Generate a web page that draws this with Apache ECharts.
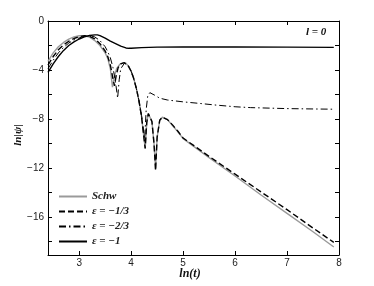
<!DOCTYPE html>
<html>
<head>
<meta charset="utf-8">
<script src="https://cdn.jsdelivr.net/npm/echarts@6/dist/echarts.min.js"></script>
<style>html,body{margin:0;padding:0;background:#fff}#c{width:374px;height:286px}</style>
</head>
<body>
<div id="c"></div>
<script>
var xTicks = [3, 4, 5, 6, 7, 8];
var yTicks = [0, -2, -4, -6, -8, -10, -12, -14, -16, -18];
var yLabels = [0, -4, -8, -12, -16];

var schwX = [2.4, 2.5, 2.6, 2.7, 2.8, 2.9, 3.0, 3.1, 3.2, 3.3, 3.4, 3.5, 3.55, 3.6, 3.64, 3.68, 3.72, 3.78, 3.85, 3.9, 3.95, 4.0, 4.05, 4.1, 4.15, 4.2, 4.24, 4.27, 4.3, 4.33, 4.36, 4.4, 4.44, 4.47, 4.5, 4.55, 4.6, 4.7, 4.8, 4.9, 5.0, 5.5, 6.0, 6.5, 7.0, 7.5, 7.9];
var schwY = [-3.3, -2.6, -2.1, -1.75, -1.48, -1.3, -1.2, -1.2, -1.32, -1.6, -2.0, -2.6, -3.05, -3.9, -5.4, -4.5, -3.9, -3.55, -3.4, -3.45, -3.7, -4.1, -4.7, -5.5, -6.5, -7.8, -9.3, -10.4, -8.3, -7.55, -7.6, -8.2, -10.0, -12.1, -9.5, -8.1, -7.85, -8.05, -8.55, -9.05, -9.6, -11.15, -12.65, -14.2, -15.7, -17.2, -18.45];

var e13X = [2.4, 2.5, 2.6, 2.7, 2.8, 2.9, 3.0, 3.1, 3.2, 3.3, 3.4, 3.5, 3.55, 3.6, 3.65, 3.68, 3.71, 3.75, 3.8, 3.87, 3.95, 4.0, 4.05, 4.1, 4.15, 4.2, 4.24, 4.27, 4.3, 4.33, 4.36, 4.4, 4.44, 4.47, 4.5, 4.55, 4.6, 4.7, 4.8, 4.9, 5.0, 5.5, 6.0, 6.5, 7.0, 7.5, 7.9];
var e13Y = [-3.6, -2.9, -2.35, -1.95, -1.65, -1.43, -1.28, -1.2, -1.25, -1.45, -1.85, -2.45, -2.9, -3.6, -4.7, -5.3, -4.5, -3.8, -3.5, -3.4, -3.7, -4.1, -4.7, -5.5, -6.5, -7.8, -9.3, -10.4, -8.3, -7.55, -7.6, -8.2, -10.0, -12.2, -9.5, -8.1, -7.85, -8.05, -8.5, -9.0, -9.55, -11.05, -12.5, -13.95, -15.4, -16.9, -18.07];

var e23X = [2.4, 2.5, 2.6, 2.7, 2.8, 2.9, 3.0, 3.1, 3.2, 3.3, 3.4, 3.5, 3.55, 3.6, 3.65, 3.7, 3.74, 3.77, 3.8, 3.87, 3.9, 3.95, 4.0, 4.05, 4.1, 4.15, 4.2, 4.24, 4.26, 4.29, 4.32, 4.36, 4.45, 4.55, 4.7, 5.0, 5.3, 5.6, 6.0, 6.3, 7.0, 7.5, 7.9];
var e23Y = [-3.9, -3.2, -2.6, -2.15, -1.8, -1.55, -1.38, -1.25, -1.2, -1.3, -1.6, -2.1, -2.5, -3.0, -3.8, -5.0, -6.3, -4.8, -3.9, -3.45, -3.45, -3.7, -4.1, -4.7, -5.5, -6.5, -7.7, -9.0, -9.6, -7.2, -6.1, -5.85, -6.05, -6.3, -6.45, -6.6, -6.72, -6.85, -7.0, -7.07, -7.15, -7.18, -7.2];

var e1X = [2.4, 2.5, 2.6, 2.7, 2.8, 2.9, 3.0, 3.1, 3.2, 3.3, 3.35, 3.4, 3.5, 3.6, 3.7, 3.8, 3.9, 3.95, 4.0, 4.2, 4.5, 5.0, 6.0, 7.0, 7.9];
var e1Y = [-4.2, -3.5, -2.9, -2.4, -2.0, -1.7, -1.47, -1.3, -1.18, -1.13, -1.13, -1.2, -1.4, -1.65, -1.85, -2.05, -2.2, -2.23, -2.22, -2.17, -2.13, -2.12, -2.12, -2.13, -2.15];

var names = ['Schw', 'ε = −1/3', 'ε = −2/3', 'ε = −1'];

function pairs(xs, ys) { return xs.map(function (x, i) { return [x, ys[i]]; }); }
function minus(v) { return String(v).replace('-', '\u2212'); }

var serif = '"Liberation Serif", "DejaVu Serif", serif';
var sans = '"Liberation Sans", Arial, sans-serif';

var chart = echarts.init(document.getElementById('c'), null, { renderer: 'canvas' });
var axisLine = { show: true, onZero: false, lineStyle: { color: '#000', width: 1 } };
function tick(vals) { return { inside: true, length: 4, customValues: vals, lineStyle: { color: '#000' } }; }
chart.setOption({
  animation: false,
  grid: { left: 48, right: 35, top: 21, bottom: 31 },
  xAxis: [
    { type: 'value', min: 2.4, max: 8, position: 'bottom', axisLine: axisLine, axisTick: tick(xTicks),
      axisLabel: { customValues: xTicks, color: '#222', fontFamily: sans, fontSize: 10, margin: 3 },
      splitLine: { show: false } },
    { type: 'value', min: 2.4, max: 8, position: 'top', axisLine: axisLine, axisTick: tick(xTicks),
      axisLabel: { show: false }, splitLine: { show: false } }
  ],
  yAxis: [
    { type: 'value', min: -19.1, max: 0, position: 'left', axisLine: axisLine, axisTick: tick(yTicks),
      axisLabel: { customValues: yLabels, color: '#222', fontFamily: sans, fontSize: 10, margin: 4,
        formatter: function (v) { return minus(v); } },
      splitLine: { show: false } },
    { type: 'value', min: -19.1, max: 0, position: 'right', axisLine: axisLine, axisTick: tick(yTicks),
      axisLabel: { show: false }, splitLine: { show: false } }
  ],
  legend: {
    orient: 'vertical', left: 53, top: 186, itemWidth: 28, itemHeight: 10, itemGap: 4,
    itemStyle: { opacity: 0 },
    textStyle: { fontFamily: serif, fontStyle: 'italic', fontWeight: 'bold', fontSize: 11, color: '#222' },
    data: names
  },
  series: [
    { name: names[0], type: 'line', data: pairs(schwX, schwY), symbol: 'none',
      lineStyle: { color: '#9a9a9a', width: 1.4 }, itemStyle: { color: '#9a9a9a' }, z: 2 },
    { name: names[1], type: 'line', data: pairs(e13X, e13Y), symbol: 'none',
      lineStyle: { color: '#000', width: 1.4, type: [6, 3] }, itemStyle: { color: '#000' }, z: 3 },
    { name: names[2], type: 'line', data: pairs(e23X, e23Y), symbol: 'none',
      lineStyle: { color: '#000', width: 1, type: [7, 3, 1.5, 3] }, itemStyle: { color: '#000' }, z: 3 },
    { name: names[3], type: 'line', data: pairs(e1X, e1Y), symbol: 'none',
      lineStyle: { color: '#000', width: 1.4 }, itemStyle: { color: '#000' }, z: 4 }
  ],
  graphic: [
    { type: 'text', left: 306, top: 27, style: { text: 'l = 0', fontFamily: serif, fontStyle: 'italic', fontWeight: 'bold', fontSize: 11, fill: '#111' } },
    { type: 'text', x: 190, y: 274, style: { text: 'ln(t)', fontFamily: serif, fontStyle: 'italic', fontWeight: 'bold', fontSize: 12, fill: '#111', align: 'center', verticalAlign: 'middle' } },
    { type: 'text', x: 18, y: 135, rotation: Math.PI / 2, style: { text: 'ln|ψ|', fontFamily: serif, fontStyle: 'italic', fontWeight: 'bold', fontSize: 11, fill: '#111', align: 'center', verticalAlign: 'middle' } }
  ]
});
</script>
</body>
</html>
